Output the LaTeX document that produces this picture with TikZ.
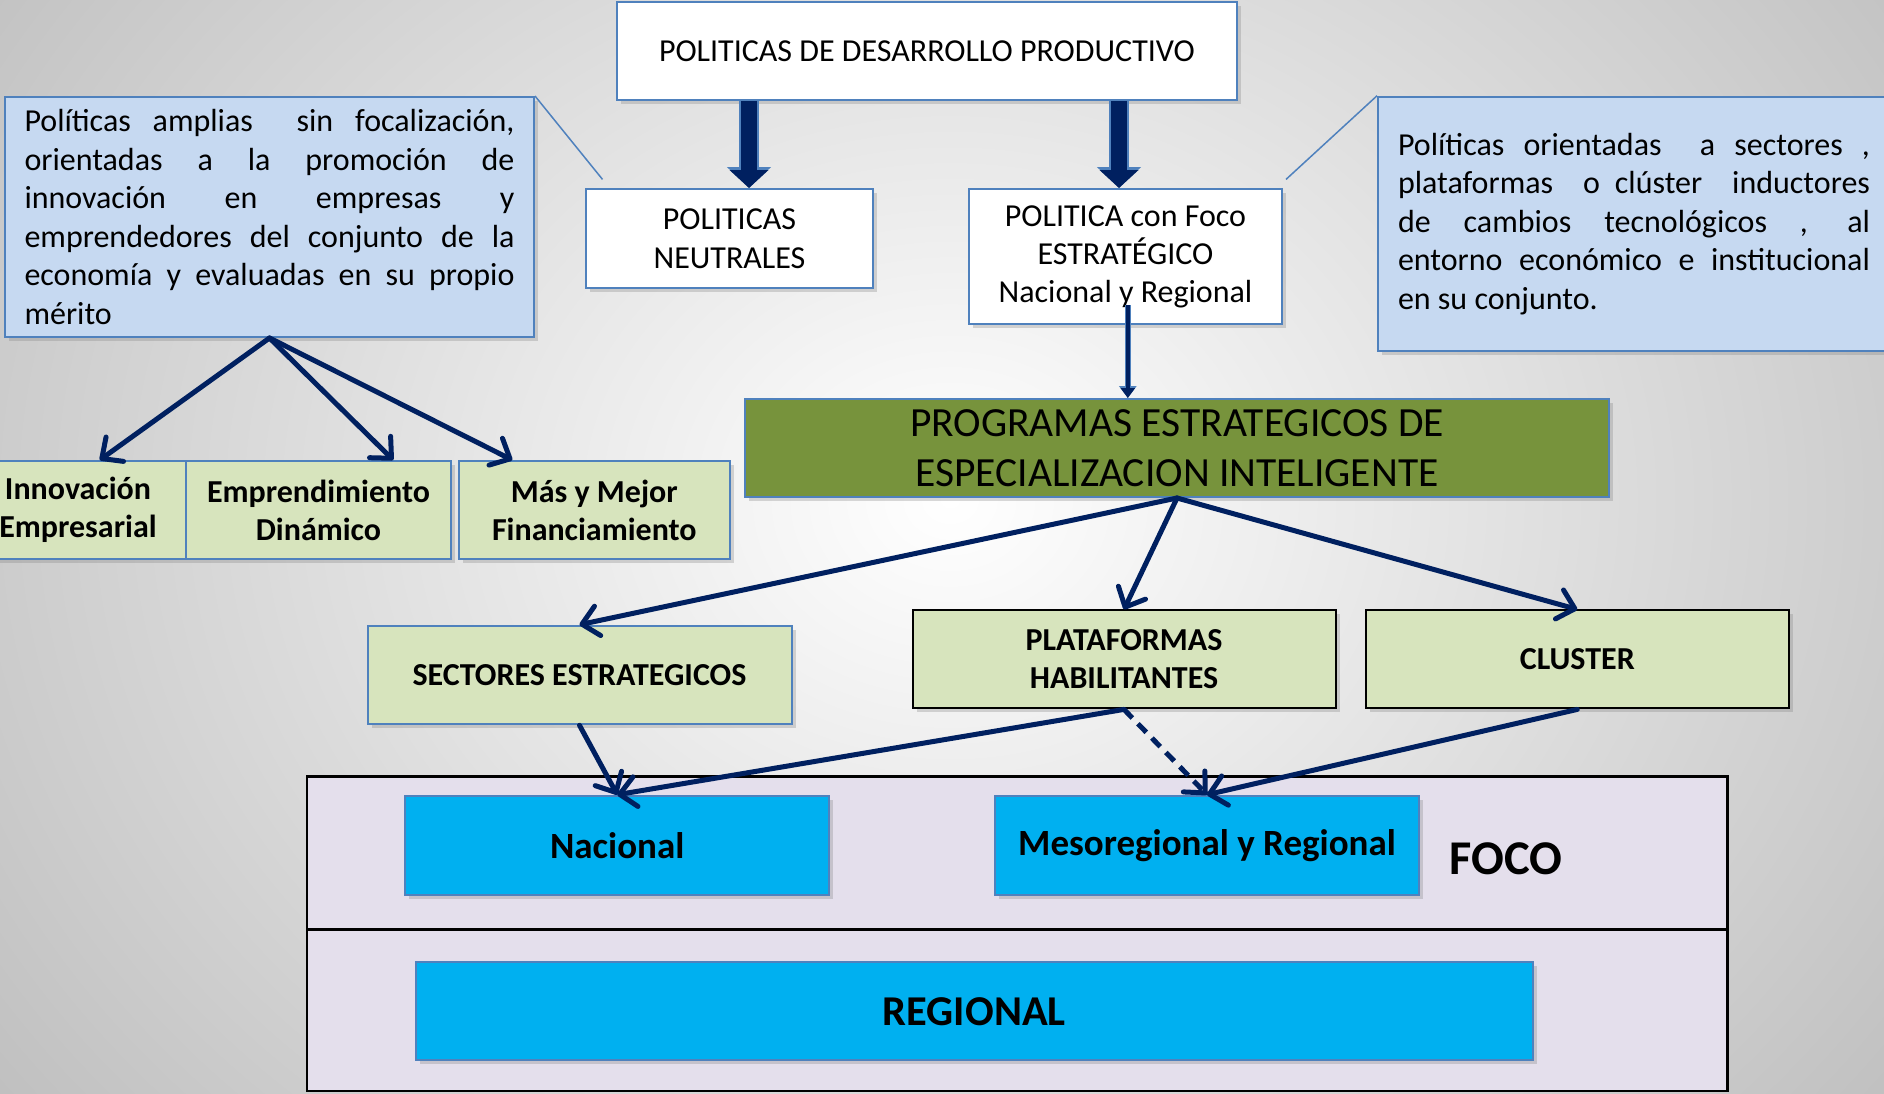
\documentclass[tikz,border=0pt]{standalone}
\usepackage{fontspec}
\setmainfont{Carlito}
\usetikzlibrary{arrows.meta, shadows, calc}

\definecolor{navy}{RGB}{0,32,96}
\definecolor{blueline}{RGB}{79,129,189}
\definecolor{calloutblue}{RGB}{198,217,241}
\definecolor{palegreen}{RGB}{215,228,189}
\definecolor{olivebox}{RGB}{119,147,60}
\definecolor{cyanfill}{RGB}{0,176,240}
\definecolor{lavender}{RGB}{228,223,236}

\newcommand{\fsz}[2]{\fontsize{#1}{#2}\selectfont}
\tolerance=9999
\emergencystretch=20pt

\begin{document}
\begin{tikzpicture}[x=1pt, y=-1pt,
    box/.style={draw=blueline, line width=2pt, align=center, inner sep=0pt,
      drop shadow={opacity=0.3, shadow xshift=4pt, shadow yshift=-4pt}},
    greenbox/.style={box, fill=palegreen, minimum height=98pt, font=\bfseries\fsz{32}{38}},
    cyanbox/.style={box, fill=cyanfill, minimum height=99pt, font=\bfseries\fsz{37}{44}},
    calloutbox/.style={box, fill=calloutblue, align=justify, font=\fsz{32}{38.5}},
    zone/.style={draw=black, line width=2.5pt, fill=lavender, inner sep=0pt},
    link/.style={draw=navy, line width=5pt, line cap=round,
      -{Straight Barb[length=16pt, width=30pt, line cap=round, line join=round]}},
    dashlink/.style={link, line cap=butt, dash pattern=on 12pt off 8pt},
    blockarrow/.style={draw=navy, line width=16pt, -{Triangle[length=18pt, width=38pt]},
      preaction={draw=blueline, line width=20pt, -{Triangle[length=21pt, width=43pt]}}},
    smallblock/.style={draw=navy, line width=4pt, -{Triangle[length=10pt, width=14pt]},
      preaction={draw=blueline, line width=6.5pt, -{Triangle[length=12pt, width=17pt]}}},
    callout/.style={draw=blueline, line width=1.5pt}]

  \useasboundingbox (0,0) rectangle (1884,1093);
  \clip (0,0) rectangle (1884,1093);
  \shade[inner color=white, outer color=gray!50] (-250,-500) rectangle (2150,1500);

  % upper part
  \node[box, fill=white, minimum width=620pt, minimum height=98pt, font=\fsz{32}{38}] (desarrollo) at (927,51) {POLITICAS DE DESARROLLO PRODUCTIVO};
  \node[calloutbox, minimum width=529pt, minimum height=240pt, text width=490pt] (amplias) at (269.5,217)
    {Políticas amplias\ \ sin focalización,\linebreak orientadas a la promoción de\linebreak innovación en empresas y\linebreak emprendedores del conjunto de la\linebreak economía y evaluadas en su propio\linebreak mérito};
  \node[calloutbox, minimum width=512pt, minimum height=254.5pt, text width=472pt] (orientadas) at (1634,224)
    {Políticas orientadas\ \ a sectores ,\linebreak plataformas\ \ o clúster\ \ inductores\linebreak de cambios tecnológicos , al\linebreak entorno económico e institucional\linebreak en su conjunto.};
  \node[box, fill=white, minimum width=287pt, minimum height=99pt, font=\fsz{32}{39}] (neutrales) at (729.5,238.5) {POLITICAS\\NEUTRALES};
  \node[box, fill=white, minimum width=313pt, minimum height=135pt, font=\fsz{32}{38}] (focoest) at (1125.5,256.5) {POLITICA con Foco\\ESTRATÉGICO\\Nacional y Regional};
  \node[box, fill=olivebox, minimum width=864.5pt, minimum height=98pt, font=\fsz{41.5}{50}] (programas) at (1177,448) {PROGRAMAS ESTRATEGICOS DE\\ESPECIALIZACION INTELIGENTE};

  \node[greenbox, minimum width=216pt] (innovacion) at (78,510) {Innovación\\Empresarial};
  \node[greenbox, minimum width=265pt] (emprend) at (318.5,510) {Emprendimiento\\Dinámico};
  \node[greenbox, minimum width=271.4pt] (financ) at (594.3,510) {Más y Mejor\\Financiamiento};

  \node[greenbox, minimum width=424pt, minimum height=98.6pt] (sectores) at (579.5,675) {SECTORES ESTRATEGICOS};
  \node[greenbox, draw=black, minimum width=423pt] (plataformas) at (1124,659.4) {PLATAFORMAS\\HABILITANTES};
  \node[greenbox, draw=black, minimum width=423.4pt] (cluster) at (1577.3,659.4) {CLUSTER};

  % lower part
  \node[zone, minimum width=1420.5pt, minimum height=153pt] (zonafoco) at (1017.25,853) {};
  \node[zone, minimum width=1420.5pt, minimum height=161.5pt] (zonaregion) at (1017.25,1010.25) {};
  \node[cyanbox, minimum width=423.7pt] (nacional) at (617.2,845.2) {Nacional};
  \node[cyanbox, minimum width=423.2pt] (meso) at (1207,845.2) {Mesoregional y Regional};
  \node[font=\bfseries\fsz{48.5}{54}] (focolabel) at (1505.8,859) {FOCO};
  \node[cyanbox, minimum width=1117.5pt, minimum height=98.3pt, font=\bfseries\fsz{42.5}{48}] (regional) at (974.25,1011.2) {REGIONAL};

  % connectors
  \coordinate (neuarr) at (749,0);
  \coordinate (focarr) at (1119,0);
  \coordinate (progarr) at (1127.8,305);
  \coordinate (ptneutral) at (602.5,179.4);
  \coordinate (ptfoco) at (1286,179.4);
  \draw[blockarrow] (desarrollo.south -| neuarr) -- (neutrales.north -| neuarr);
  \draw[blockarrow] (desarrollo.south -| focarr) -- (focoest.north -| focarr);
  \draw[smallblock] (progarr) -- (programas.north -| progarr);
  \draw[callout] (amplias.north east) -- (ptneutral);
  \draw[callout] (orientadas.north west) -- (ptfoco);

  \draw[link] (amplias.south) -- ($(innovacion.north west)!0.6!(innovacion.north east)$);
  \draw[link] (amplias.south) -- ($(emprend.north west)!0.78!(emprend.north east)$);
  \draw[link] (amplias.south) -- ($(financ.north west)!0.2!(financ.north east)$);

  \draw[link] (programas.south) -- (sectores.north);
  \draw[link] (programas.south) -- (plataformas.north);
  \draw[link] (programas.south) -- (cluster.north);
  \draw[link] (sectores.south) -- (nacional.north);
  \draw[link] (plataformas.south) -- (nacional.north);
  \draw[dashlink] (plataformas.south) -- (meso.north);
  \draw[link] (cluster.south) -- (meso.north);
\end{tikzpicture}
\end{document}
